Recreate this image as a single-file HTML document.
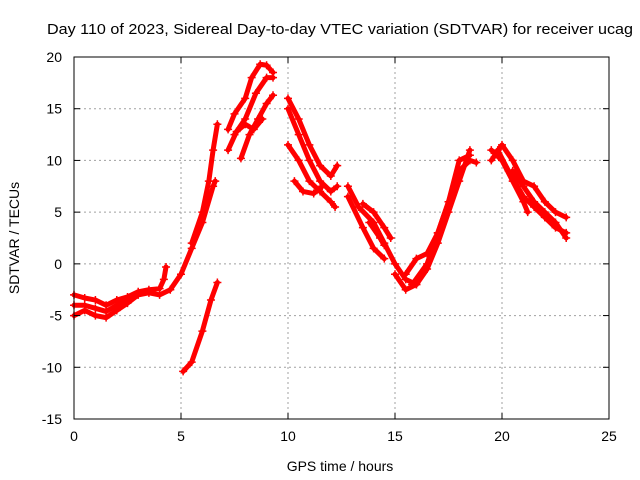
<!DOCTYPE html>
<html><head><meta charset="utf-8"><style>
body{margin:0;background:#fff;}
svg{display:block;font-family:"Liberation Sans",sans-serif;}
</style></head><body>
<svg id="chart" width="640" height="480" viewBox="0 0 640 480">
<text x="47" y="34" font-size="14.3" textLength="586" lengthAdjust="spacingAndGlyphs">Day 110 of 2023, Sidereal Day-to-day VTEC variation (SDTVAR) for receiver ucag</text>
<g id="grid"></g>
<g id="series"></g>
<rect x="74" y="57" width="535" height="362" fill="none" stroke="#000" stroke-width="1"/>
<g id="ticks"></g>
<text x="340" y="471" font-size="14" text-anchor="middle">GPS time / hours</text>
<text transform="translate(19,238) rotate(-90)" font-size="14" text-anchor="middle">SDTVAR / TECUs</text>
</svg>
<script>
const xTicks=[0,5,10,15,20,25];
const yTicks=[-15,-10,-5,0,5,10,15,20];
const tracks=[
[[0,-5],[0.5,-4.5],[1,-5],[1.5,-5.2],[2,-4.5],[2.5,-3.8],[3,-3],[3.5,-2.8],[4,-3],[4.5,-2.5],[5,-1],[5.5,1.5],[6,4],[6.5,7.5],[6.6,8]],
[[0,-3],[0.5,-3.3],[1,-3.5],[1.5,-4],[2,-3.5],[2.5,-3.2],[3,-2.7],[3.5,-2.5],[4,-2.4],[4.2,-1.5],[4.3,-0.3]],
[[0,-4],[0.5,-4],[1,-4.3],[1.5,-4.6],[2,-4],[2.5,-3.5]],
[[5.5,2],[6,5],[6.3,8],[6.5,11],[6.7,13.5]],
[[5.1,-10.4],[5.5,-9.5],[6,-6.5],[6.4,-3.5],[6.7,-1.8]],
[[7.2,13],[7.5,14.5],[8,16],[8.3,18],[8.7,19.3],[9,19.2],[9.3,18.5]],
[[7.5,12.5],[8,14],[8.5,16.5],[9,18],[9.3,18]],
[[7.8,10.2],[8.2,12.5],[8.6,14],[9,15.5],[9.3,16.3]],
[[7.2,11],[7.6,12.8],[8,13.5],[8.4,13],[8.8,14]],
[[10,16],[10.5,14],[11,11.5],[11.5,9.5],[12,8.5],[12.3,9.5]],
[[10,15],[10.5,12.5],[11,10],[11.5,8],[12,7],[12.3,7.5]],
[[10,11.5],[10.5,10],[11,8],[11.5,7],[12,6],[12.2,5.5]],
[[10.3,8],[10.7,7],[11.2,6.8],[11.6,7.5]],
[[12.8,7.5],[13.3,5.5],[14,4],[14.5,2],[15,0],[15.5,-1.5],[16,-2]],
[[12.8,6.5],[13.5,3.5],[14,1.5],[14.5,0.5]],
[[13.5,5.8],[14,5],[14.5,3.5],[14.8,2.5]],
[[13.8,4],[14.3,2.5],[14.5,1.8]],
[[15,-1],[15.5,-2.5],[16,-2],[16.5,-0.5],[17,2],[17.5,5],[18,8],[18.5,11]],
[[15.8,-2],[16.5,0],[17,3],[17.5,6],[18,9],[18.5,10],[18.8,9.8]],
[[15.5,-1],[16,0.5],[16.5,1],[17,3],[17.5,6],[18,10],[18.5,10.5]],
[[19.5,10],[20,11.5],[20.5,10],[21,8],[21.5,7.5],[22,6],[22.5,5],[23,4.5]],
[[19.8,11],[20.3,9],[21,6.5],[21.5,5.5],[22,4.5],[22.5,3.5],[23,3]],
[[19.5,11],[20,10],[20.5,8],[21,6],[21.2,5]],
[[20.5,9],[21,7.5],[21.5,6],[22,5],[22.5,4],[23,2.5]]
];
const X0=74,X1=609,Y0=419,Y1=57;
const xs=v=>X0+(v-0)/25*(X1-X0);
const ys=v=>Y0-(v+15)/35*(Y0-Y1);
const NS="http://www.w3.org/2000/svg";
const grid=document.getElementById('grid'),ticks=document.getElementById('ticks'),ser=document.getElementById('series');
function mk(t,a,p){const e=document.createElementNS(NS,t);for(const k in a)e.setAttribute(k,a[k]);p.appendChild(e);return e;}
xTicks.forEach(v=>{const x=xs(v);
 if(v>0&&v<25){const g=mk('line',{x1:x,x2:x,y1:Y1,y2:Y0,stroke:'#a0a0a0','stroke-dasharray':'2,3'},grid);
 }
 const t=mk('text',{x:x,y:Y0+22,'font-size':14,'text-anchor':'middle'},ticks);t.textContent=v;
 
 mk('line',{x1:x,x2:x,y1:Y0,y2:Y0-6,stroke:'#000'},ticks);mk('line',{x1:x,x2:x,y1:Y1,y2:Y1+6,stroke:'#000'},ticks);});
yTicks.forEach(v=>{const y=ys(v);
 if(v>-15&&v<20){const g=mk('line',{x1:X0,x2:X1,y1:y,y2:y,stroke:'#a0a0a0','stroke-dasharray':'2,3'},grid);
 }
 const t=mk('text',{x:X0-12,y:y+5,'font-size':14,'text-anchor':'end'},ticks);t.textContent=v;
 
 mk('line',{x1:X0,x2:X0+6,y1:y,y2:y,stroke:'#000'},ticks);mk('line',{x1:X1,x2:X1-6,y1:y,y2:y,stroke:'#000'},ticks);});
tracks.forEach(tr=>{
 const pl=mk('polyline',{points:tr.map(p=>xs(p[0])+','+ys(p[1])).join(' '),fill:'none',stroke:'#f00','stroke-width':5,'stroke-linejoin':'round','stroke-linecap':'round'},ser);
 
 tr.forEach(p=>{const x=xs(p[0]),y=ys(p[1]);
  const m=mk('path',{d:`M${x-4},${y}H${x+4}M${x},${y-4}V${y+4}`,stroke:'#f00','stroke-width':1.5},ser);
  });
});
</script>
</body></html>
